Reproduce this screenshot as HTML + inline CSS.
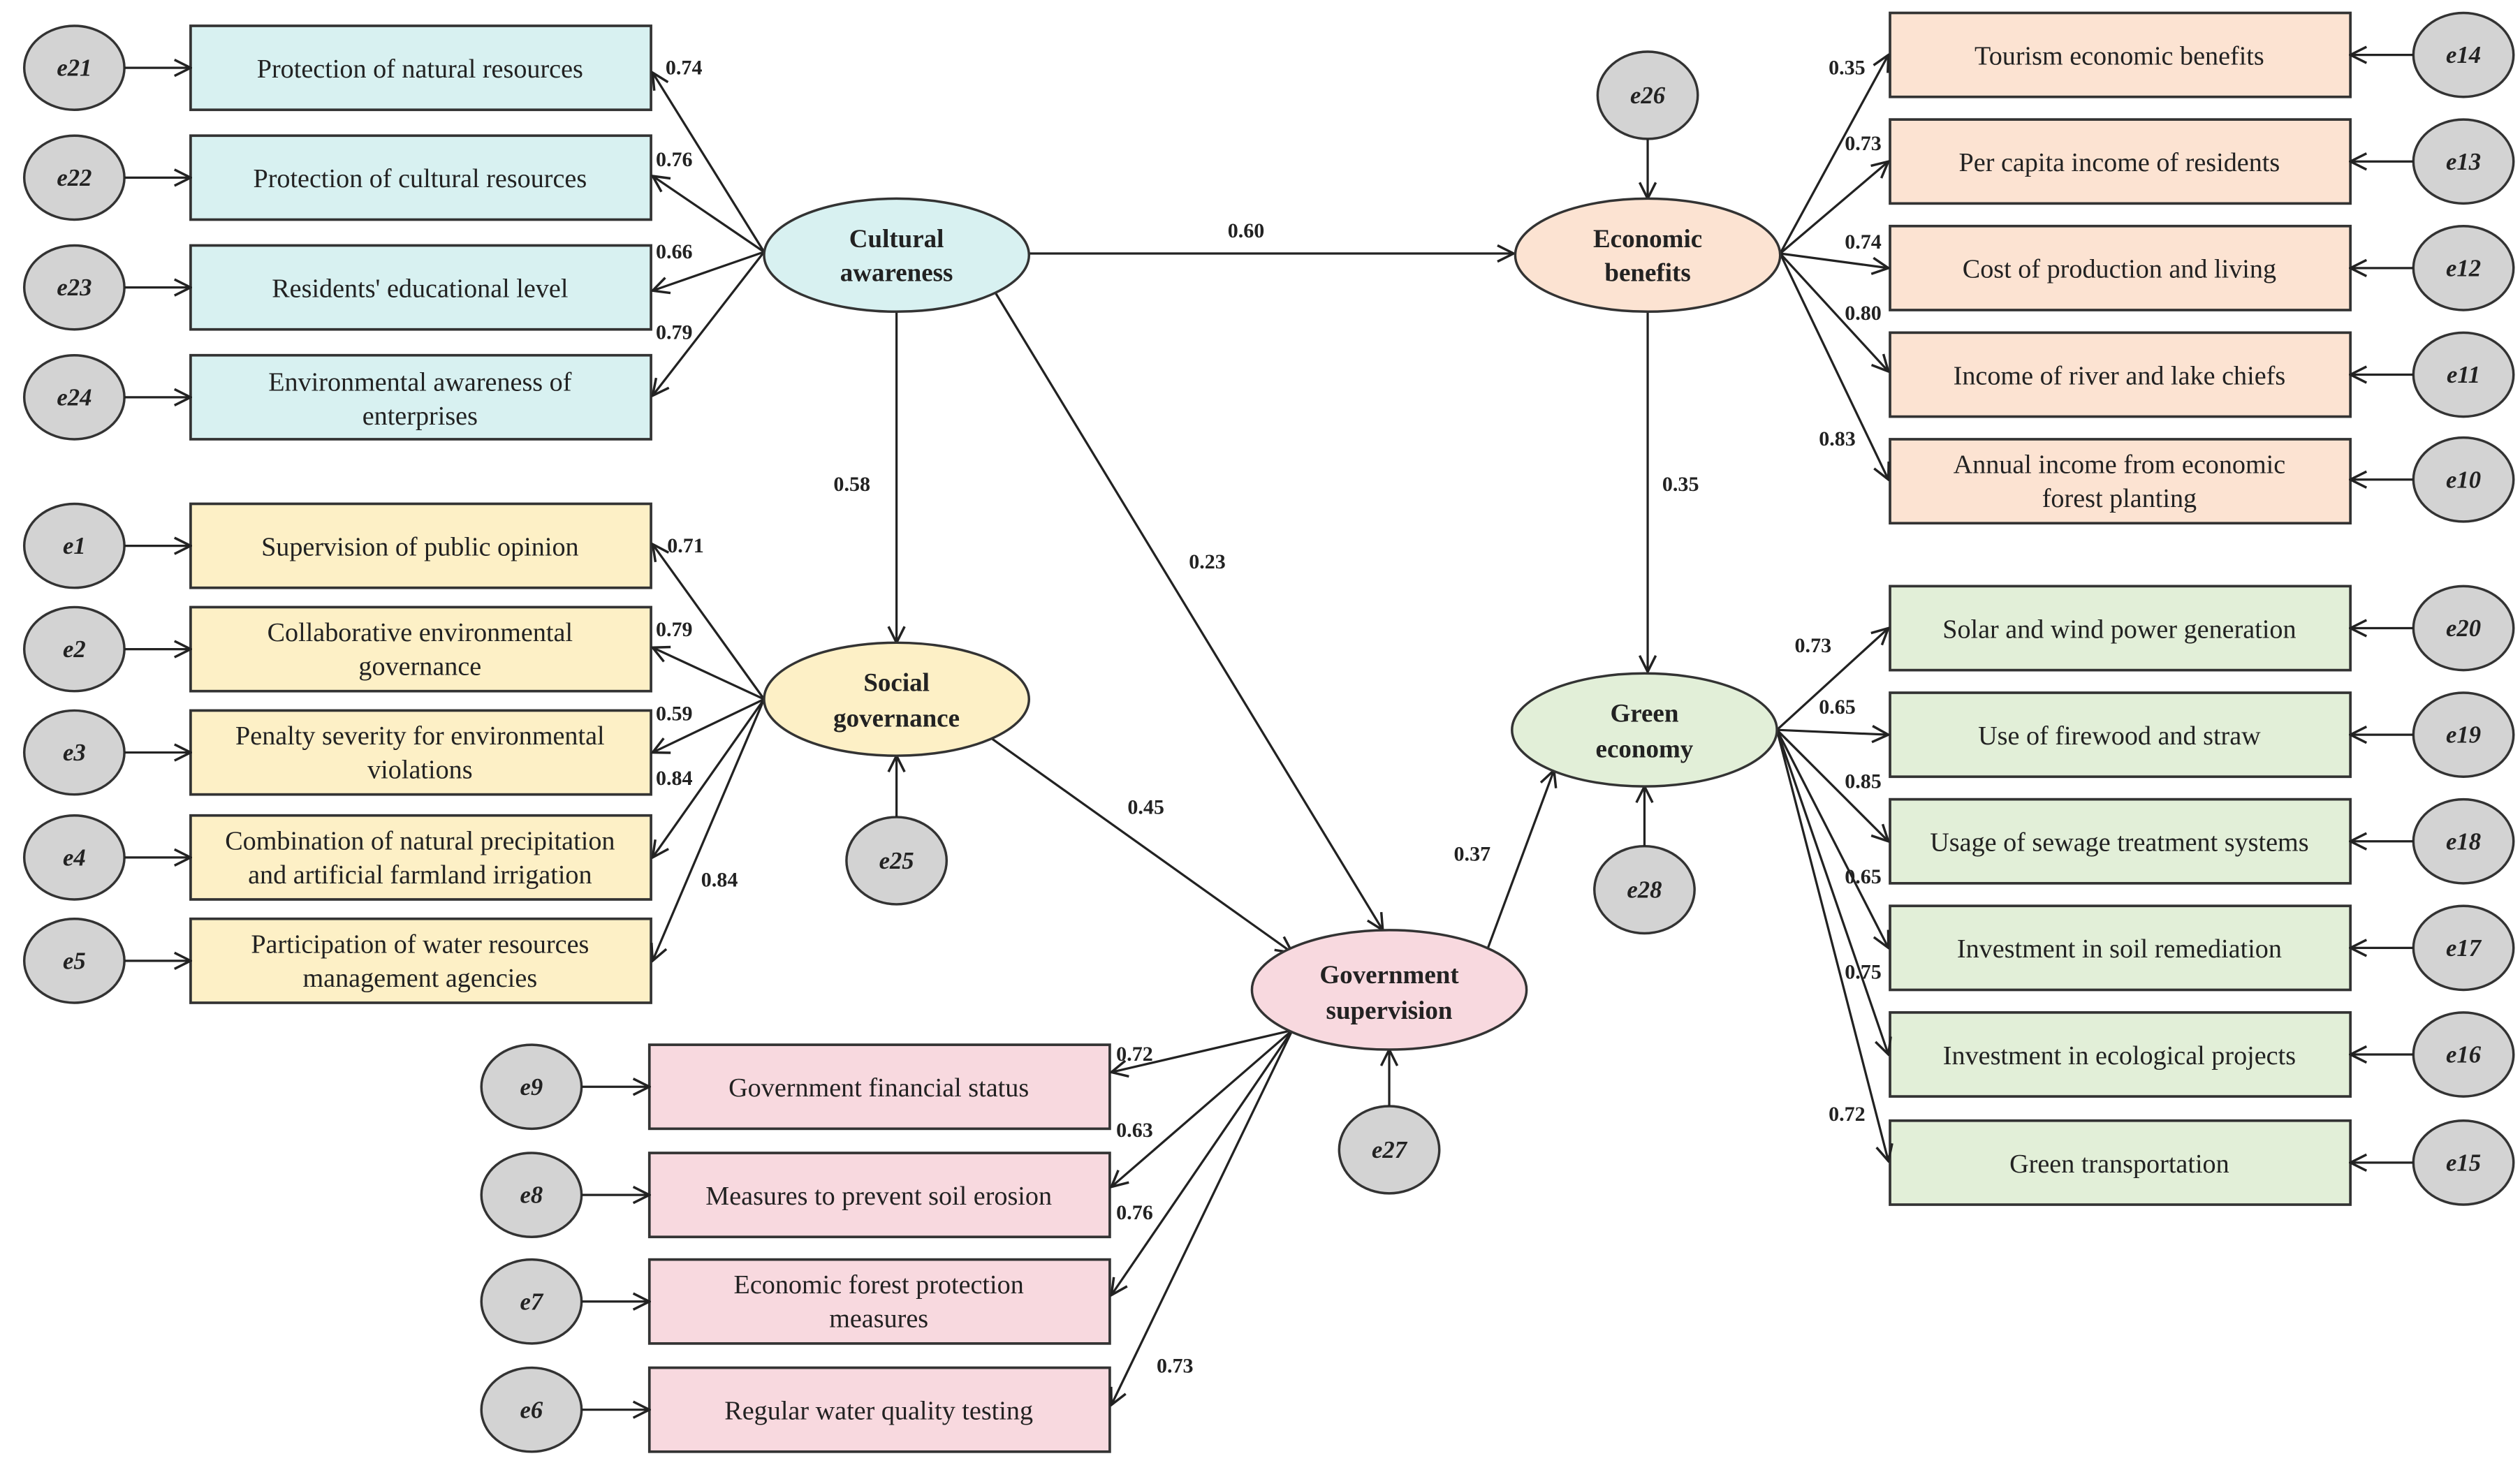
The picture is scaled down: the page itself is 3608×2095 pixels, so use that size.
<!DOCTYPE html>
<html><head><meta charset="utf-8"><style>
html,body{margin:0;padding:0;background:#fff;}
svg{display:block;}
text{font-family:"Liberation Serif",serif;fill:#222;}
.bt{font-size:16.5px;text-anchor:middle;}
.lt{font-size:16px;font-weight:bold;text-anchor:middle;}
.et{font-size:15px;font-weight:bold;font-style:italic;text-anchor:middle;}
.nl{font-size:13px;font-weight:bold;}
.ln{stroke:#222;stroke-width:1.4;fill:none;marker-end:url(#a);}
.bx{stroke:#333;stroke-width:1.6;}
.ec{fill:#d3d3d3;stroke:#333;stroke-width:1.5;}
.lv{stroke:#333;stroke-width:1.5;}
</style></head><body>
<svg width="3608" height="2095" viewBox="0 0 1560 906" preserveAspectRatio="none" xmlns="http://www.w3.org/2000/svg">
<defs><marker id="a" viewBox="0 0 12 12" refX="11" refY="6" markerWidth="12" markerHeight="12" markerUnits="userSpaceOnUse" orient="auto"><path d="M1,1 L11,6 L1,11" fill="none" stroke="#222" stroke-width="1.5"/></marker></defs>

<!-- cyan boxes -->
<g fill="#d8f1f1">
<rect class="bx" x="118" y="16" width="285" height="52"/>
<rect class="bx" x="118" y="84" width="285" height="52"/>
<rect class="bx" x="118" y="152" width="285" height="52"/>
<rect class="bx" x="118" y="220" width="285" height="52"/>
</g>
<text class="bt" x="260" y="48">Protection of natural resources</text>
<text class="bt" x="260" y="116">Protection of cultural resources</text>
<text class="bt" x="260" y="184">Residents' educational level</text>
<text class="bt" x="260" y="242">Environmental awareness of</text>
<text class="bt" x="260" y="263">enterprises</text>

<!-- yellow boxes -->
<g fill="#fdf0c6">
<rect class="bx" x="118" y="312" width="285" height="52"/>
<rect class="bx" x="118" y="376" width="285" height="52"/>
<rect class="bx" x="118" y="440" width="285" height="52"/>
<rect class="bx" x="118" y="505" width="285" height="52"/>
<rect class="bx" x="118" y="569" width="285" height="52"/>
</g>
<text class="bt" x="260" y="344">Supervision of public opinion</text>
<text class="bt" x="260" y="397">Collaborative environmental</text>
<text class="bt" x="260" y="418">governance</text>
<text class="bt" x="260" y="461">Penalty severity for environmental</text>
<text class="bt" x="260" y="482">violations</text>
<text class="bt" x="260" y="526">Combination of natural precipitation</text>
<text class="bt" x="260" y="547">and artificial farmland irrigation</text>
<text class="bt" x="260" y="590">Participation of water resources</text>
<text class="bt" x="260" y="611">management agencies</text>

<!-- pink boxes -->
<g fill="#f8d9df">
<rect class="bx" x="402" y="647" width="285" height="52"/>
<rect class="bx" x="402" y="714" width="285" height="52"/>
<rect class="bx" x="402" y="780" width="285" height="52"/>
<rect class="bx" x="402" y="847" width="285" height="52"/>
</g>
<text class="bt" x="544" y="679">Government financial status</text>
<text class="bt" x="544" y="746">Measures to prevent soil erosion</text>
<text class="bt" x="544" y="801">Economic forest protection</text>
<text class="bt" x="544" y="822">measures</text>
<text class="bt" x="544" y="879">Regular water quality testing</text>

<!-- peach boxes -->
<g fill="#fce3d2">
<rect class="bx" x="1170" y="8" width="285" height="52"/>
<rect class="bx" x="1170" y="74" width="285" height="52"/>
<rect class="bx" x="1170" y="140" width="285" height="52"/>
<rect class="bx" x="1170" y="206" width="285" height="52"/>
<rect class="bx" x="1170" y="272" width="285" height="52"/>
</g>
<text class="bt" x="1312" y="40">Tourism economic benefits</text>
<text class="bt" x="1312" y="106">Per capita income of residents</text>
<text class="bt" x="1312" y="172">Cost of production and living</text>
<text class="bt" x="1312" y="238">Income of river and lake chiefs</text>
<text class="bt" x="1312" y="293">Annual income from economic</text>
<text class="bt" x="1312" y="314">forest planting</text>

<!-- green boxes -->
<g fill="#e2efd8">
<rect class="bx" x="1170" y="363" width="285" height="52"/>
<rect class="bx" x="1170" y="429" width="285" height="52"/>
<rect class="bx" x="1170" y="495" width="285" height="52"/>
<rect class="bx" x="1170" y="561" width="285" height="52"/>
<rect class="bx" x="1170" y="627" width="285" height="52"/>
<rect class="bx" x="1170" y="694" width="285" height="52"/>
</g>
<text class="bt" x="1312" y="395">Solar and wind power generation</text>
<text class="bt" x="1312" y="461">Use of firewood and straw</text>
<text class="bt" x="1312" y="527">Usage of sewage treatment systems</text>
<text class="bt" x="1312" y="593">Investment in soil remediation</text>
<text class="bt" x="1312" y="659">Investment in ecological projects</text>
<text class="bt" x="1312" y="726">Green transportation</text>

<!-- error circles -->
<g>
<ellipse class="ec" cx="46" cy="42" rx="31" ry="26"/><text class="et" x="46" y="47">e21</text>
<ellipse class="ec" cx="46" cy="110" rx="31" ry="26"/><text class="et" x="46" y="115">e22</text>
<ellipse class="ec" cx="46" cy="178" rx="31" ry="26"/><text class="et" x="46" y="183">e23</text>
<ellipse class="ec" cx="46" cy="246" rx="31" ry="26"/><text class="et" x="46" y="251">e24</text>
<ellipse class="ec" cx="46" cy="338" rx="31" ry="26"/><text class="et" x="46" y="343">e1</text>
<ellipse class="ec" cx="46" cy="402" rx="31" ry="26"/><text class="et" x="46" y="407">e2</text>
<ellipse class="ec" cx="46" cy="466" rx="31" ry="26"/><text class="et" x="46" y="471">e3</text>
<ellipse class="ec" cx="46" cy="531" rx="31" ry="26"/><text class="et" x="46" y="536">e4</text>
<ellipse class="ec" cx="46" cy="595" rx="31" ry="26"/><text class="et" x="46" y="600">e5</text>
<ellipse class="ec" cx="329" cy="673" rx="31" ry="26"/><text class="et" x="329" y="678">e9</text>
<ellipse class="ec" cx="329" cy="740" rx="31" ry="26"/><text class="et" x="329" y="745">e8</text>
<ellipse class="ec" cx="329" cy="806" rx="31" ry="26"/><text class="et" x="329" y="811">e7</text>
<ellipse class="ec" cx="329" cy="873" rx="31" ry="26"/><text class="et" x="329" y="878">e6</text>
<ellipse class="ec" cx="1525" cy="34" rx="31" ry="26"/><text class="et" x="1525" y="39">e14</text>
<ellipse class="ec" cx="1525" cy="100" rx="31" ry="26"/><text class="et" x="1525" y="105">e13</text>
<ellipse class="ec" cx="1525" cy="166" rx="31" ry="26"/><text class="et" x="1525" y="171">e12</text>
<ellipse class="ec" cx="1525" cy="232" rx="31" ry="26"/><text class="et" x="1525" y="237">e11</text>
<ellipse class="ec" cx="1525" cy="297" rx="31" ry="26"/><text class="et" x="1525" y="302">e10</text>
<ellipse class="ec" cx="1525" cy="389" rx="31" ry="26"/><text class="et" x="1525" y="394">e20</text>
<ellipse class="ec" cx="1525" cy="455" rx="31" ry="26"/><text class="et" x="1525" y="460">e19</text>
<ellipse class="ec" cx="1525" cy="521" rx="31" ry="26"/><text class="et" x="1525" y="526">e18</text>
<ellipse class="ec" cx="1525" cy="587" rx="31" ry="26"/><text class="et" x="1525" y="592">e17</text>
<ellipse class="ec" cx="1525" cy="653" rx="31" ry="26"/><text class="et" x="1525" y="658">e16</text>
<ellipse class="ec" cx="1525" cy="720" rx="31" ry="26"/><text class="et" x="1525" y="725">e15</text>
<ellipse class="ec" cx="1020" cy="59" rx="31" ry="27"/><text class="et" x="1020" y="64">e26</text>
<ellipse class="ec" cx="555" cy="533" rx="31" ry="27"/><text class="et" x="555" y="538">e25</text>
<ellipse class="ec" cx="860" cy="712" rx="31" ry="27"/><text class="et" x="860" y="717">e27</text>
<ellipse class="ec" cx="1018" cy="551" rx="31" ry="27"/><text class="et" x="1018" y="556">e28</text>
</g>

<!-- error arrows -->
<g>
<line class="ln" x1="77" y1="42" x2="118" y2="42"/>
<line class="ln" x1="77" y1="110" x2="118" y2="110"/>
<line class="ln" x1="77" y1="178" x2="118" y2="178"/>
<line class="ln" x1="77" y1="246" x2="118" y2="246"/>
<line class="ln" x1="77" y1="338" x2="118" y2="338"/>
<line class="ln" x1="77" y1="402" x2="118" y2="402"/>
<line class="ln" x1="77" y1="466" x2="118" y2="466"/>
<line class="ln" x1="77" y1="531" x2="118" y2="531"/>
<line class="ln" x1="77" y1="595" x2="118" y2="595"/>
<line class="ln" x1="360" y1="673" x2="402" y2="673"/>
<line class="ln" x1="360" y1="740" x2="402" y2="740"/>
<line class="ln" x1="360" y1="806" x2="402" y2="806"/>
<line class="ln" x1="360" y1="873" x2="402" y2="873"/>
<line class="ln" x1="1494" y1="34" x2="1455" y2="34"/>
<line class="ln" x1="1494" y1="100" x2="1455" y2="100"/>
<line class="ln" x1="1494" y1="166" x2="1455" y2="166"/>
<line class="ln" x1="1494" y1="232" x2="1455" y2="232"/>
<line class="ln" x1="1494" y1="297" x2="1455" y2="297"/>
<line class="ln" x1="1494" y1="389" x2="1455" y2="389"/>
<line class="ln" x1="1494" y1="455" x2="1455" y2="455"/>
<line class="ln" x1="1494" y1="521" x2="1455" y2="521"/>
<line class="ln" x1="1494" y1="587" x2="1455" y2="587"/>
<line class="ln" x1="1494" y1="653" x2="1455" y2="653"/>
<line class="ln" x1="1494" y1="720" x2="1455" y2="720"/>
<line class="ln" x1="1020" y1="86" x2="1020" y2="123"/>
<line class="ln" x1="555" y1="506" x2="555" y2="468"/>
<line class="ln" x1="860" y1="685" x2="860" y2="650"/>
<line class="ln" x1="1018" y1="524" x2="1018" y2="487"/>
</g>

<!-- loadings -->
<g>
<line class="ln" x1="473" y1="156" x2="404" y2="45"/>
<line class="ln" x1="473" y1="156" x2="404" y2="109"/>
<line class="ln" x1="473" y1="156" x2="404" y2="180"/>
<line class="ln" x1="473" y1="156" x2="404" y2="245"/>
<line class="ln" x1="473" y1="433" x2="404" y2="337"/>
<line class="ln" x1="473" y1="433" x2="404" y2="401"/>
<line class="ln" x1="473" y1="433" x2="404" y2="466"/>
<line class="ln" x1="473" y1="433" x2="404" y2="531"/>
<line class="ln" x1="473" y1="433" x2="404" y2="595"/>
<line class="ln" x1="800" y1="638" x2="688" y2="664"/>
<line class="ln" x1="800" y1="638" x2="688" y2="735"/>
<line class="ln" x1="800" y1="638" x2="688" y2="802"/>
<line class="ln" x1="800" y1="638" x2="688" y2="870"/>
<line class="ln" x1="1102" y1="157" x2="1169" y2="34"/>
<line class="ln" x1="1102" y1="157" x2="1169" y2="100"/>
<line class="ln" x1="1102" y1="157" x2="1169" y2="166"/>
<line class="ln" x1="1102" y1="157" x2="1169" y2="230"/>
<line class="ln" x1="1102" y1="157" x2="1169" y2="297"/>
<line class="ln" x1="1100" y1="452" x2="1169" y2="389"/>
<line class="ln" x1="1100" y1="452" x2="1169" y2="455"/>
<line class="ln" x1="1100" y1="452" x2="1169" y2="521"/>
<line class="ln" x1="1100" y1="452" x2="1169" y2="587"/>
<line class="ln" x1="1100" y1="452" x2="1169" y2="653"/>
<line class="ln" x1="1100" y1="452" x2="1169" y2="719"/>
</g>

<!-- structural paths -->
<g>
<line class="ln" x1="637" y1="157" x2="937" y2="157"/>
<line class="ln" x1="555" y1="193" x2="555" y2="398"/>
<line class="ln" x1="613" y1="176" x2="856" y2="576"/>
<line class="ln" x1="612" y1="456" x2="800" y2="590"/>
<line class="ln" x1="920" y1="590" x2="962" y2="477"/>
<line class="ln" x1="1020" y1="193" x2="1020" y2="416"/>
</g>

<!-- latent variables -->
<ellipse class="lv" cx="555" cy="158" rx="82" ry="35" fill="#d8f1f1"/>
<text class="lt" x="555" y="153">Cultural</text><text class="lt" x="555" y="174">awareness</text>
<ellipse class="lv" cx="555" cy="433" rx="82" ry="35" fill="#fdf0c6"/>
<text class="lt" x="555" y="428">Social</text><text class="lt" x="555" y="450">governance</text>
<ellipse class="lv" cx="860" cy="613" rx="85" ry="37" fill="#f8d9df"/>
<text class="lt" x="860" y="609">Government</text><text class="lt" x="860" y="631">supervision</text>
<ellipse class="lv" cx="1020" cy="158" rx="82" ry="35" fill="#fce3d2"/>
<text class="lt" x="1020" y="153">Economic</text><text class="lt" x="1020" y="174">benefits</text>
<ellipse class="lv" cx="1018" cy="452" rx="82" ry="35" fill="#e2efd8"/>
<text class="lt" x="1018" y="447">Green</text><text class="lt" x="1018" y="469">economy</text>

<!-- coefficient labels -->
<g class="nl">
<text class="nl" x="412" y="46">0.74</text>
<text class="nl" x="406" y="103">0.76</text>
<text class="nl" x="406" y="160">0.66</text>
<text class="nl" x="406" y="210">0.79</text>
<text class="nl" x="413" y="342">0.71</text>
<text class="nl" x="406" y="394">0.79</text>
<text class="nl" x="406" y="446">0.59</text>
<text class="nl" x="406" y="486">0.84</text>
<text class="nl" x="434" y="549">0.84</text>
<text class="nl" x="760" y="147">0.60</text>
<text class="nl" x="516" y="304">0.58</text>
<text class="nl" x="736" y="352">0.23</text>
<text class="nl" x="698" y="504">0.45</text>
<text class="nl" x="900" y="533">0.37</text>
<text class="nl" x="1029" y="304">0.35</text>
<text class="nl" x="1132" y="46">0.35</text>
<text class="nl" x="1142" y="93">0.73</text>
<text class="nl" x="1142" y="154">0.74</text>
<text class="nl" x="1142" y="198">0.80</text>
<text class="nl" x="1126" y="276">0.83</text>
<text class="nl" x="1111" y="404">0.73</text>
<text class="nl" x="1126" y="442">0.65</text>
<text class="nl" x="1142" y="488">0.85</text>
<text class="nl" x="1142" y="547">0.65</text>
<text class="nl" x="1142" y="606">0.75</text>
<text class="nl" x="1132" y="694">0.72</text>
<text class="nl" x="691" y="657">0.72</text>
<text class="nl" x="691" y="704">0.63</text>
<text class="nl" x="691" y="755">0.76</text>
<text class="nl" x="716" y="850">0.73</text>
</g>
</svg>
</body></html>
